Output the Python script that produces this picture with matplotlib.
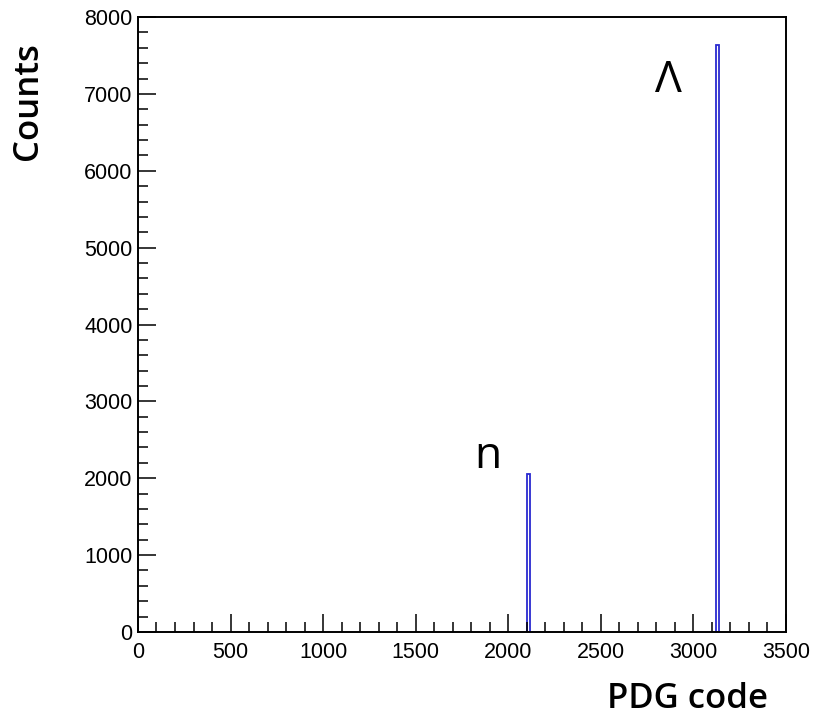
import numpy as np
import matplotlib
matplotlib.use("Agg")
import matplotlib.pyplot as plt
from matplotlib.ticker import MultipleLocator

# Histogram binning and filled bins (PDG code of the particle)
bin_width = 20
x_min, x_max = 0, 3500
bin_lefts = [2100, 3120]
bin_counts = [2050, 7630]
labels = ["n", "\u039b"]
label_pos = [(1815, 2133), (2790, 7024)]

fig = plt.figure(figsize=(8.15, 7.15), dpi=100)
ax = fig.add_axes([0.1693, 0.1161, 0.7951, 0.8601])

ax.bar(bin_lefts, bin_counts, width=bin_width, align="edge",
       facecolor="none", edgecolor="#2a2ad0", linewidth=1.3)

ax.set_xlim(x_min, x_max)
ax.set_ylim(0, 8000)

ax.xaxis.set_major_locator(MultipleLocator(500))
ax.xaxis.set_minor_locator(MultipleLocator(100))
ax.yaxis.set_major_locator(MultipleLocator(1000))
ax.yaxis.set_minor_locator(MultipleLocator(200))

ax.tick_params(which="both", direction="in", top=False, right=False,
               width=1.1, color="black")
ax.tick_params(which="major", length=13, labelsize=15.5)
ax.tick_params(axis="y", which="major", pad=4)
ax.tick_params(axis="x", which="major", pad=7)
ax.tick_params(which="minor", length=7)
for lab in ax.get_xticklabels() + ax.get_yticklabels():
    lab.set_fontfamily("Liberation Sans")

for sp in ax.spines.values():
    sp.set_linewidth(1.4)

fig.text(768 / 815, 1 - 708 / 715, "PDG code", fontsize=25, fontweight="semibold",
         family="Open Sans", ha="right", va="baseline")
fig.text(28 / 815, 1 - 42 / 715, "Counts", fontsize=25, fontweight="semibold",
         family="Open Sans", rotation=90, ha="center", va="top")

for text, (tx, ty) in zip(labels, label_pos):
    ax.text(tx, ty, text, fontsize=32, family="Open Sans", ha="left", va="baseline")

fig.savefig("out.png", dpi=100)
